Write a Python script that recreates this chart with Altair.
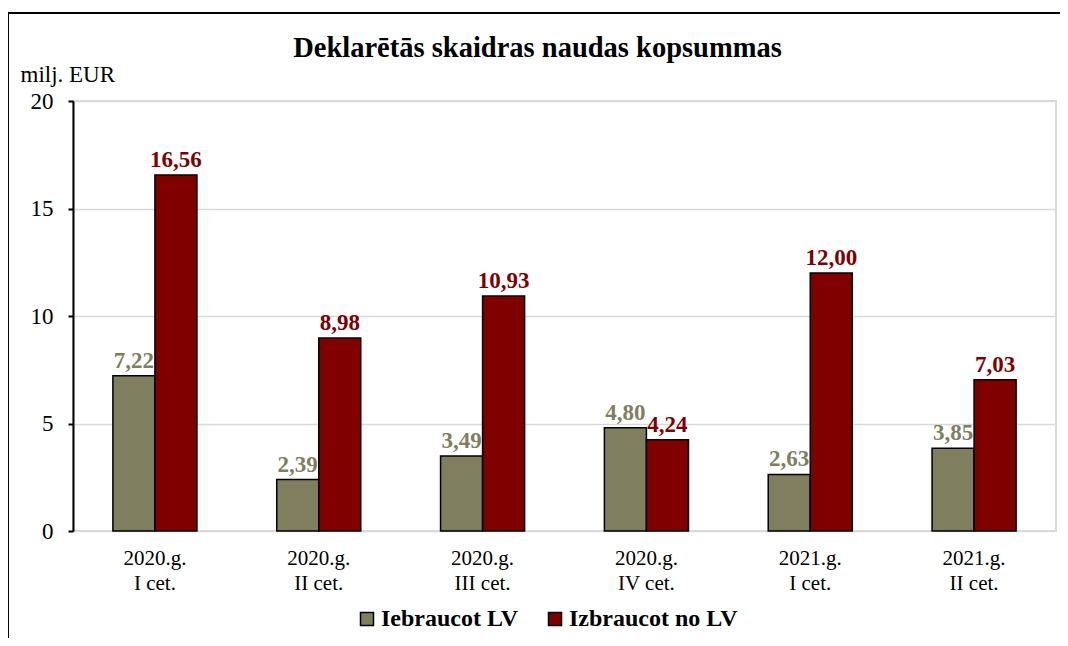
import altair as alt
import pandas as pd

years = ["2020.g.", "2020.g.", "2020.g.", "2020.g.", "2021.g.", "2021.g."]
quarters = ["I cet.", "II cet.", "III cet.", "IV cet.", "I cet.", "II cet."]
series = ["Iebraucot LV", "Izbraucot no  LV"]
iebraucot = [7.22, 2.39, 3.49, 4.80, 2.63, 3.85]
izbraucot = [16.56, 8.98, 10.93, 4.24, 12.00, 7.03]
colors = ["#7F7F5F", "#800000"]
y_ticks = [0, 5, 10, 15, 20]

cats = [f"{y}\n{q}" for y, q in zip(years, quarters)]
rows = []
for i, c in enumerate(cats):
    for s, vals, col in zip(series, [iebraucot, izbraucot], colors):
        rows.append({
            "cat": c,
            "series": s,
            "value": vals[i],
            "label": f"{vals[i]:.2f}".replace(".", ","),
            "tcolor": col,
        })
df = pd.DataFrame(rows)

FONT = "Liberation Serif"

x_enc = alt.X(
    "cat:N", sort=cats, title=None,
    scale=alt.Scale(paddingInner=0.487, paddingOuter=0.2435),
    axis=alt.Axis(
        labelExpr="split(datum.label, '\\n')",
        labelAngle=0, labelFontSize=21, labelLineHeight=25,
        labelPadding=16, labelColor="black", domain=False, ticks=False,
        grid=False, labelFont=FONT,
    ),
)
xoff = alt.XOffset("series:N", sort=series,
                   scale=alt.Scale(paddingInner=0, paddingOuter=0))
y_enc = alt.Y(
    "value:Q",
    scale=alt.Scale(domain=[0, 20]),
    axis=alt.Axis(
        values=y_ticks, title="milj. EUR", titleAngle=0, titleX=-53, titleY=-20,
        titleAlign="left", titleBaseline="alphabetic", titleFontWeight="normal",
        titleFontSize=23, titleFont=FONT, titleColor="black",
        labelFontSize=23, labelFont=FONT, labelColor="black", labelPadding=15,
        tickSize=5, tickColor="black", tickWidth=2,
        domainColor="black", domainWidth=2,
        gridColor="#D9D9D9", gridWidth=1.5,
    ),
)

base = alt.Chart(df)

bars = base.mark_bar(stroke="black", strokeWidth=1.5).encode(
    x=x_enc, xOffset=xoff, y=y_enc,
    color=alt.Color(
        "series:N", sort=series,
        scale=alt.Scale(domain=series, range=colors),
        legend=alt.Legend(
            orient="none", legendX=282, legendY=506, direction="horizontal",
            title=None, symbolType="square", symbolSize=169,
            symbolStrokeColor="black", symbolStrokeWidth=1.5,
            labelFont=FONT, labelFontSize=24, labelFontWeight="bold",
            labelColor="black", labelOffset=2, columnPadding=24,
            labelLimit=0,
        ),
    ),
)

labels = base.mark_text(
    dy=-8, baseline="alphabetic", fontSize=23, fontWeight="bold", font=FONT
).encode(
    x=x_enc, xOffset=xoff, y=y_enc,
    text="label:N",
    color=alt.Color("tcolor:N", scale=None),
)

border = alt.Chart(pd.DataFrame({"b": [0]})).mark_rect(
    fill="transparent", stroke="black", strokeWidth=2
).encode(
    x=alt.value(-65), x2=alt.value(1300), y=alt.value(-88), y2=alt.value(900)
)

chart = alt.layer(bars, labels, border).properties(
    width=983, height=430,
    title=alt.TitleParams(
        "Deklarētās skaidras naudas kopsummas", font=FONT, fontSize=28.5,
        fontWeight="bold", anchor="middle", dx=-27, frame="group",
        baseline="alphabetic", offset=-73, color="black",
    ),
    autosize=alt.AutoSizeParams(type="none"),
    padding={"left": 65, "top": 93, "right": 4, "bottom": 107},
).configure(
    font=FONT, background="white"
).configure_view(
    stroke="#D9D9D9", strokeWidth=2
)

chart.save("out.html", embed_options={"renderer": "svg", "actions": False})
